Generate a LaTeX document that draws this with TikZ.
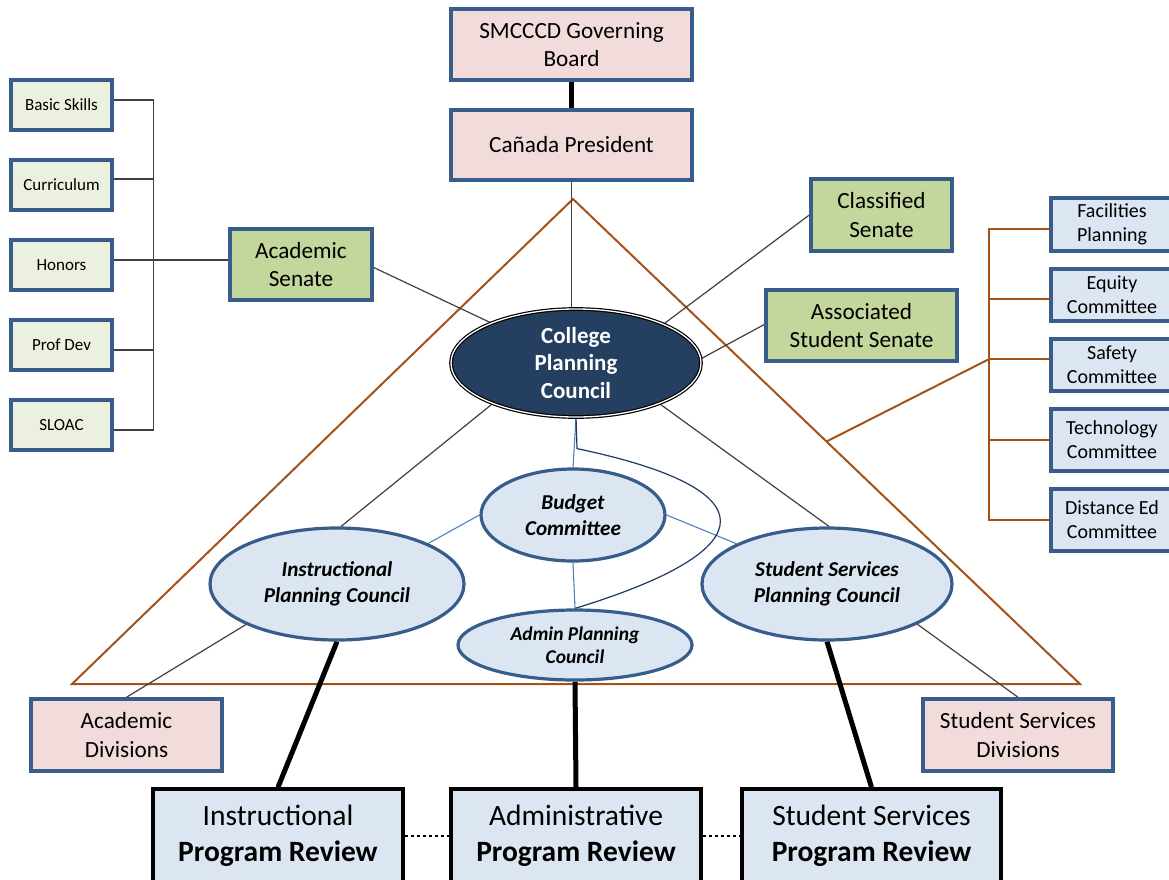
\documentclass[tikz,border=0pt]{standalone}
\usepackage{fontspec}
\setmainfont{Carlito}
\usetikzlibrary{shapes.geometric,calc}
\definecolor{bordblue}{RGB}{56,93,138}
\definecolor{pinkfill}{RGB}{242,220,219}
\definecolor{greenfill}{RGB}{195,214,155}
\definecolor{lgreenfill}{RGB}{235,241,222}
\definecolor{lbluefill}{RGB}{220,230,242}
\definecolor{navyfill}{RGB}{36,63,96}
\definecolor{brn}{RGB}{165,82,22}
\definecolor{thinc}{RGB}{64,64,64}
\definecolor{ltblue}{RGB}{79,129,189}
\definecolor{dkblue}{RGB}{31,56,100}
\pgfdeclarelayer{bg}
\pgfsetlayers{bg,main}
\newcommand\fBig{\fontsize{23.2}{28.5}\selectfont}
\newcommand\fSmall{\fontsize{17}{20}\selectfont}
\newcommand\fRight{\fontsize{20}{24}\selectfont}
\newcommand\fEll{\fontsize{21.2}{26}\selectfont\bfseries\itshape}
\newcommand\fAdm{\fontsize{19.5}{23}\selectfont\bfseries\itshape}
\newcommand\fBot{\fontsize{29.5}{36}\selectfont}
\begin{document}
\begin{tikzpicture}[x=1pt,y=-1pt,
  box/.style={rectangle, draw=bordblue, line width=3.5pt, align=center, inner sep=1pt, text=black},
  pinkbox/.style={box, fill=pinkfill, font=\fBig},
  greenbox/.style={box, fill=greenfill, font=\fBig},
  lgbox/.style={box, fill=lgreenfill, font=\fSmall, minimum width=101, minimum height=50},
  rbox/.style={box, fill=lbluefill, font=\fRight, minimum width=122},
  ell/.style={ellipse, draw=bordblue, line width=3.2pt, fill=lbluefill, align=center, inner sep=0pt, font=\fEll},
  botbox/.style={rectangle, draw=black, line width=3.5pt, fill=lbluefill, align=center, font=\fBot, minimum height=94},
  thinline/.style={draw=thinc, line width=1.2pt},
  blueline/.style={draw=ltblue, line width=1.1pt},
  brnline/.style={draw=brn, line width=2pt},
  thick/.style={draw=black, line width=5pt}
]
\useasboundingbox (0,0) rectangle (1169,879);

% top
\node[pinkbox, minimum width=241, minimum height=71] (gov) at (571.5,44.5) {SMCCCD Governing\\Board};
\node[pinkbox, minimum width=241, minimum height=70] (pres) at (571.5,145) {Cañada President};

% senates
\node[greenbox, minimum width=142, minimum height=71] (acsen) at (301,264.5) {Academic\\Senate};
\node[greenbox, minimum width=141, minimum height=72] (clsen) at (881.5,215) {Classified\\Senate};
\node[greenbox, minimum width=191, minimum height=71] (assen) at (861.5,325.5) {Associated\\Student Senate};

% left committees
\node[lgbox] (basic) at (61.5,105) {Basic Skills};
\node[lgbox] (curr) at (61.5,185) {Curriculum};
\node[lgbox] (hon) at (61.5,265) {Honors};
\node[lgbox] (prof) at (61.5,345) {Prof Dev};
\node[lgbox] (sloac) at (61.5,425) {SLOAC};

% right committees
\node[rbox, minimum height=53] (fac) at (1112,224.5) {Facilities\\Planning};
\node[rbox, minimum height=52] (eq) at (1112,295) {Equity\\Committee};
\node[rbox, minimum height=52] (saf) at (1112,365) {Safety\\Committee};
\node[rbox, minimum height=62] (tech) at (1112,440) {Technology\\Committee};
\node[rbox, minimum height=62] (dist) at (1112,520) {Distance Ed\\Committee};

% ellipses
\node[ellipse, draw=black, double=white, double distance=1.3pt, line width=1.2pt, fill=navyfill,
      minimum width=250, minimum height=108, inner sep=0pt, align=center, text=white,
      font=\fontsize{23}{27.5}\selectfont\bfseries] (cpc) at (576,363) {College\\Planning\\Council};
\node[ell, minimum width=184, minimum height=92] (budget) at (573,515) {Budget\\Committee};
\node[ell, minimum width=254, minimum height=112] (ipc) at (337,584) {Instructional\\Planning Council};
\node[ell, minimum width=250, minimum height=112] (sspc) at (827,584) {Student Services\\Planning Council};
\node[ell, minimum width=234, minimum height=70, font=\fAdm] (admin) at (575,645) {Admin Planning\\Council};

% divisions
\node[pinkbox, minimum width=191, minimum height=72] (acdiv) at (126.5,735) {Academic\\Divisions};
\node[pinkbox, minimum width=190, minimum height=72] (ssdiv) at (1018,735) {Student Services\\Divisions};

% program review
\node[botbox, minimum width=250] (ipr) at (278,836) {Instructional\\\textbf{Program Review}};
\node[botbox, minimum width=250] (apr) at (576,836) {Administrative\\\textbf{Program Review}};
\node[botbox, minimum width=259] (sspr) at (871.5,836) {Student Services\\\textbf{Program Review}};

\begin{pgfonlayer}{bg}
  \fill[white] (0,0) rectangle (1169,879);
  % triangle
  \coordinate (apex) at (573,199);
  \coordinate (tbl) at (72,684);
  \coordinate (tbr) at (1080,684);
  \draw[brnline] (apex) -- (tbl) -- (tbr) -- cycle;

  % top connections
  \draw[thick] (gov.south) -- (pres.north);
  \draw[thinline] (pres.south) -- (pres.south |- cpc.north);

  % left bracket
  \draw[thinline] ([yshift=5pt]basic.east) -- ++(39.5,0) coordinate (lbt) |- ([yshift=-5pt]sloac.east);
  \draw[thinline] ([yshift=6pt]curr.east) -- ++(39.5,0);
  \draw[thinline] ([yshift=-5pt]prof.east) -- ++(39.5,0);
  \draw[thinline] ([yshift=5pt]hon.east) -- ([yshift=4.5pt]acsen.west);

  % senates to CPC
  \draw[thinline] ([yshift=-3pt]acsen.east) -- (cpc);
  \draw[thinline] (clsen.west) -- (cpc.24);
  \draw[thinline] ([yshift=1pt]assen.west) -- (cpc.2);

  % right bracket
  \draw[brnline] ([yshift=-4.5pt]fac.west) -- ++(-60,0) |- (dist.west);
  \draw[brnline] ([yshift=-4pt]eq.west) -- ++(-60,0);
  \draw[brnline] (tech.west) -- ++(-60,0);
  \draw[brnline] ([yshift=6pt]saf.west) -- ++(-60,0) coordinate (sj);
  \draw[brnline] (sj) -- ($(apex)!0.5!(tbr)$);

  % CPC to councils
  \draw[thinline] (cpc.206) -- (ipc.86);
  \draw[thinline] (cpc.334) -- (sspc.88);
  \draw[blueline] (cpc.south) -- (budget.north);
  \draw[blueline] (budget.west) -- (ipc.24);
  \draw[blueline] (budget.east) -- (sspc.156);
  \draw[blueline] (budget.south) -- (admin.north);
  \draw[draw=dkblue, line width=1.2pt] (cpc.south) -- ++(1,31) .. controls (765,488) and (772,548) .. (admin.north);

  % divisions
  \draw[thinline] (ipc.204) -- (acdiv.north);
  \draw[thinline] (sspc.336) -- (ssdiv.north);

  % program review
  \draw[thick] (ipc.south) -- (ipr.north);
  \draw[thick] (admin.south) -- (apr.north);
  \draw[thick] (sspc.south) -- (sspr.north);
  \draw[draw=black, line width=1.1pt, dashed] (ipr.east) -- (apr.west);
  \draw[draw=black, line width=1.1pt, dashed] (apr.east) -- (sspr.west);
\end{pgfonlayer}
\end{tikzpicture}
\end{document}
